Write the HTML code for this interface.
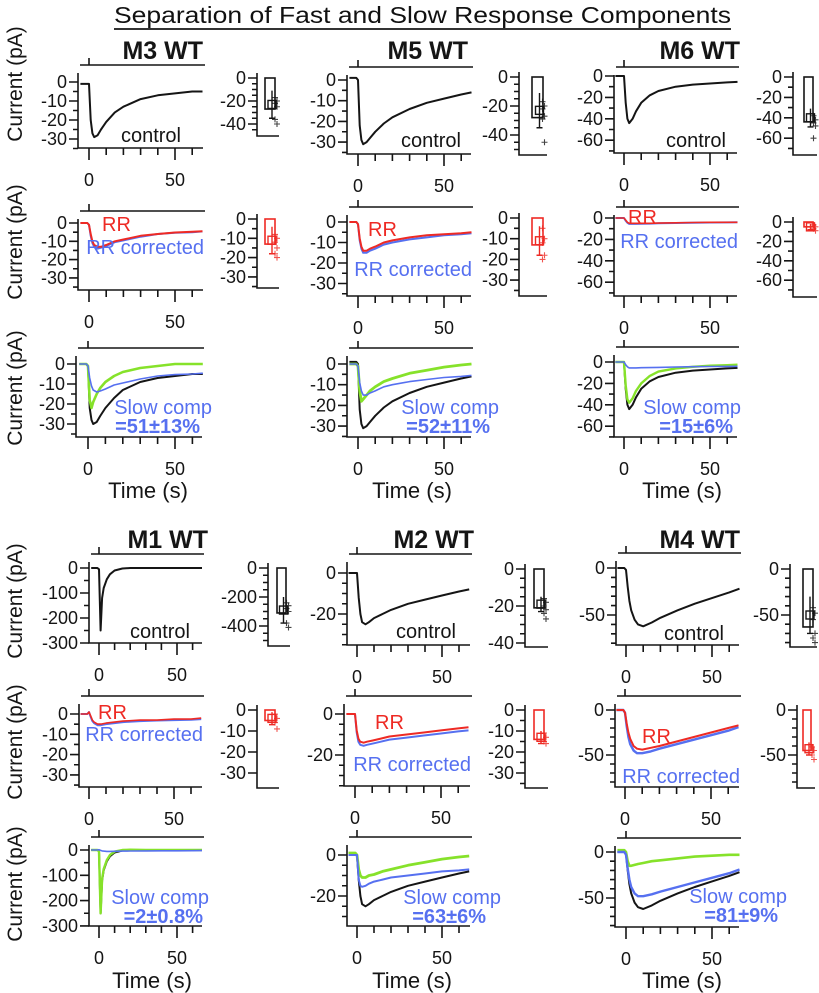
<!DOCTYPE html>
<html><head><meta charset="utf-8"><style>
html,body{margin:0;padding:0;background:#fff}
svg{display:block;font-family:"Liberation Sans",Arial,sans-serif}
</style></head><body>
<svg id="fig" width="819" height="993" viewBox="0 0 819 993" xmlns="http://www.w3.org/2000/svg">
<text x="114" y="23" font-size="23" textLength="617" lengthAdjust="spacingAndGlyphs" fill="#111">Separation of Fast and Slow Response Components</text>
<line x1="114" y1="29" x2="731" y2="29" stroke="#333" stroke-width="2"/>
</svg>
<script>
// Common time samples (s)
const T = [-5,-1,0,1,2,3,5,7,10,15,20,30,40,50,60,66];
// Series values (pA)
const m3Ctl  = [-1,-1,-1,-20,-27,-29,-28,-25,-21,-16,-13,-9,-7,-6,-5,-5];
const m3RR   = [0,0,-1,-6,-10,-12,-13,-13,-12,-10,-9,-7,-6,-5.2,-4.8,-4.5];
const m3Cor  = [0,0,-1,-7,-11,-13,-14,-13.5,-12.5,-10.5,-9.5,-7.5,-6,-5.3,-5,-4.6];
const m3Fast = [0,0,-1,-18,-22,-19,-15,-12,-9,-6,-4,-2,-1,0,0,0];
const m3Ctl2 = [0,0,-1,-22,-28,-30,-29,-26,-22,-17,-13,-9,-7,-6,-5,-5];
const m5Ctl  = [1,1,0,-22,-29,-31,-30,-28,-25,-21,-18,-14,-11,-9,-7,-6];
const m5RR   = [0,0,-1,-8,-12,-14,-14,-13,-12,-10,-9,-7.5,-6.5,-6,-5.5,-5];
const m5Cor  = [0,0,-1,-9,-13,-15,-15,-14,-13,-11,-10,-8.5,-7.5,-6.5,-6,-5.5];
const m5Fast = [0,0,-1,-13,-18,-17,-15,-13,-11,-8.5,-7,-4.5,-3,-1.5,-0.5,0];
const m6Ctl  = [0,0,0,-25,-40,-44,-40,-33,-25,-18,-14,-10,-8,-7,-6,-5.5];
const m6RR   = [0,0,0,-2,-4,-5,-5,-5,-5,-5,-4.8,-4.5,-4.2,-4,-4,-4];
const m6Cor  = [0,0,0,-2.5,-4.5,-5.5,-5.5,-5.5,-5.3,-5.2,-5,-4.7,-4.4,-4.2,-4.1,-4];
const m6Fast = [0,0,0,-22,-35,-38,-34,-27,-20,-13,-9,-6,-4.5,-3.5,-3,-2.5];
const m1Ctl  = [0,0,-5,-250,-120,-80,-45,-25,-10,-2,0,0,0,0,0,0];
const m1RR   = [0,0,1,-1,-3,-4,-5,-5,-4.5,-4,-3.5,-3,-3,-2.5,-2.5,-2];
const m1Cor  = [0,0,1,-1.5,-3.5,-4.5,-5.5,-5.5,-5,-4.5,-4,-3.5,-3.2,-3,-2.8,-2.5];
const m1Fast = [0,0,-5,-250,-115,-75,-40,-20,-6,0,1,0,0,0,0,0];
const m2Ctl  = [0,0,0,-12,-20,-24,-25,-24,-22,-20,-18,-15,-13,-11,-9,-8];
const m2RR   = [0,0,0,-8,-12,-13.5,-14,-13.5,-13,-12,-11,-10,-9,-8,-7,-6.5];
const m2Cor  = [0,0,0,-9,-13.5,-15,-15.5,-15,-14.5,-13.5,-12.5,-11.5,-10.5,-9.5,-8.5,-8];
const m2Fast = [1,1,0,-7,-10,-11,-11,-10,-9.5,-8,-7,-5,-3.5,-2,-1,-0.5];
const m2Cor2 = [0,0,0,-12,-15,-15.5,-15,-14,-13,-12,-11,-10,-9,-8,-7.5,-7];
const m4Ctl  = [0,0,-2,-20,-35,-45,-55,-60,-62,-58,-53,-45,-38,-32,-26,-22];
const m4RR   = [0,0,-3,-15,-25,-32,-40,-43,-44,-42,-40,-35,-30,-25,-20,-17];
const m4Cor  = [0,0,-3,-18,-30,-38,-45,-48,-48,-46,-43,-38,-33,-28,-23,-19];
const m4Fast = [2,2,0,-10,-15,-15,-14,-13,-12,-10,-9,-7,-5,-4,-3,-3];
// Inset summary values: bar, mean marker, error, points
const m3Box = [-27,-23,12]; const m3Pts = [-17,-20,-22,-25,-36,-40];
const m3RRBox = [-13,-11,7]; const m3RRPts = [-8,-10,-12,-15,-18,-20];
const m5Box = [-28,-23,12]; const m5Pts = [-17,-20,-22,-27,-29,-45];
const m5RRBox = [-13,-11,7]; const m5RRPts = [-5,-10,-12,-18,-20];
const m6Box = [-44,-40,9]; const m6Pts = [-38,-42,-45,-48,-60];
const m6RRBox = [-5,-5,3]; const m6RRPts = [-3,-5,-7,-9];
const m1Box = [-310,-290,90]; const m1Pts = [-240,-260,-280,-300,-380,-410];
const m1RRBox = [-5,-4,3]; const m1RRPts = [-2,-4,-6,-9];
const m2Box = [-21,-19,4]; const m2Pts = [-16,-18,-20,-22,-24,-27];
const m2RRBox = [-14,-13,3]; const m2RRPts = [-11,-13,-15,-16];
const m4Box = [-63,-50,20]; const m4Pts = [-42,-48,-55,-70,-75,-80];
const m4RRBox = [-45,-43,7]; const m4RRPts = [-41,-45,-50,-55];

const BLK='#151515', RED='#ee2a24', BLU='#5670f0', GRN='#86e22a';
const svg=document.getElementById('fig');
const NS='http://www.w3.org/2000/svg';
function el(tag,attrs,parent){const e=document.createElementNS(NS,tag);for(const k in attrs)e.setAttribute(k,attrs[k]);(parent||svg).appendChild(e);return e;}
function txt(s,attrs,parent){const e=el('text',attrs,parent);e.textContent=s;return e;}

function panel(name,g,yl,ymin,traces){
  const grp=el('g',{});
  
  
  const X=t=>g.x0+t*g.k, Y=v=>g.y0-v*g.ky;
  const bar=el('path',{d:`M${g.xa+2},${g.bar}H${g.xr+2}M${g.x0},${g.bar}V${g.bar-7}`,stroke:BLK,'stroke-width':1.6,fill:'none'},grp);
  
  
  const yt=g.bar+8;
  const ax=el('path',{d:`M${g.xa},${yt}V${g.yb}H${g.xr}`,stroke:BLK,'stroke-width':1.6,fill:'none'},grp);
  
  
  let d='';
  for(let v=0;Y(v)<=g.yb+0.5;v-=ymin){const maj=yl.indexOf(v)>=0;d+=`M${g.xa},${Y(v)}h${maj?-9:-5}`;}
  for(let t=0;t<=60;t+=10){const maj=(t%50===0);d+=`M${X(t)},${g.yb}v${maj?12:7}`;}
  el('path',{d:d,stroke:BLK,'stroke-width':1.6},grp);
  yl.forEach(v=>{const e=txt(String(v),{x:g.xa-11,y:Y(v)+6,'font-size':18,'text-anchor':'end',fill:BLK},grp);
    
    });
  [0,50].forEach(t=>{const e=txt(String(t),{x:X(t),y:g.yb+38,'font-size':18,'text-anchor':'middle',fill:BLK},grp);
    
    });
  traces.forEach(([data,col,w,nm])=>{
    const pts=T.map((t,i)=>`${X(t).toFixed(1)},${Y(data[i]).toFixed(1)}`).join(' ');
    const p=el('polyline',{points:pts,fill:'none',stroke:col,'stroke-width':w||2,'stroke-linejoin':'round'},grp);
    
    
  });
  return grp;
}
function inset(name,g,yl,ymin,box,pts,col){
  const grp=el('g',{});
  
  
  const Y=v=>g.y0-v*g.ky;
  el('path',{d:`M${g.xa},${g.y0-5}V${g.yb}H${g.bx+g.bw+4}`,stroke:BLK,'stroke-width':1.6,fill:'none'},grp);
  let d='';
  for(let v=0;Y(v)<=g.yb-1;v-=ymin){const maj=yl.indexOf(v)>=0;d+=`M${g.xa},${Y(v)}h${maj?-9:-5}`;}
  el('path',{d:d,stroke:BLK,'stroke-width':1.6},grp);
  yl.forEach(v=>{txt(String(v),{x:g.xa-11,y:Y(v)+6,'font-size':18,'text-anchor':'end',fill:BLK},grp);});
  const r=el('rect',{x:g.bx,y:Y(0),width:g.bw,height:Y(box[0])-Y(0),fill:'none',stroke:col,'stroke-width':1.6},grp);
  
  
  const cx=g.bx+g.bw/2+2;
  el('path',{d:`M${cx},${Y(box[1]-box[2])}V${Y(box[1]+box[2])}M${cx-3},${Y(box[1]-box[2])}h6`,stroke:col,'stroke-width':1.4},grp);
  el('rect',{x:cx-4,y:Y(box[1])-4,width:8,height:8,fill:'none',stroke:col,'stroke-width':1.4},grp);
  pts.forEach((v,i)=>{const px=cx+3+(i%2)*2;
    const p=el('path',{d:`M${px-3},${Y(v)}h6M${px},${Y(v)-3}v6`,stroke:col,'stroke-width':1.1,opacity:0.8},grp);
    
    });
}
function label(s,x,y,col,opts){const e=txt(s,Object.assign({x:x,y:y,'font-size':20,fill:col},opts||{}));return e;}

// ---------- Top half ----------
panel('m3-control-plot',{xa:78,x0:89,k:1.72,xr:203,bar:65,y0:82,ky:1.9,yb:148},[0,-10,-20,-30],5,[[m3Ctl,BLK,2,'control-trace']]);
inset('m3-control-inset',{xa:257,y0:78,ky:1.15,yb:136,bx:265,bw:10},[0,-20,-40],5,m3Box,m3Pts,BLK);
panel('m3-rr-plot',{xa:78,x0:89,k:1.72,xr:203,bar:211,y0:223,ky:1.83,yb:290},[0,-10,-20,-30],5,[[m3Cor,BLU,2,'rr-corrected-trace'],[m3RR,RED,2,'rr-trace']]);
inset('m3-rr-inset',{xa:257,y0:219,ky:1.93,yb:288,bx:265,bw:10},[0,-10,-20,-30],5,m3RRBox,m3RRPts,RED);
panel('m3-components-plot',{xa:76,x0:88,k:1.74,xr:202,bar:348,y0:364,ky:2.0,yb:437},[0,-10,-20,-30],5,[[m3Ctl2,BLK,2,'total-trace'],[m3Fast,GRN,2.6,'fast-trace'],[m3Cor,BLU,1.6,'slow-trace']]);
panel('m5-control-plot',{xa:347,x0:358,k:1.72,xr:471,bar:67,y0:80,ky:2.07,yb:154},[0,-10,-20,-30],5,[[m5Ctl,BLK,2,'control-trace']]);
inset('m5-control-inset',{xa:519,y0:77,ky:1.45,yb:155,bx:532,bw:11},[0,-20,-40],5,m5Box,m5Pts,BLK);
panel('m5-rr-plot',{xa:347,x0:358,k:1.72,xr:471,bar:207,y0:222,ky:2.05,yb:296},[0,-10,-20,-30],5,[[m5Cor,BLU,2,'rr-corrected-trace'],[m5RR,RED,2,'rr-trace']]);
inset('m5-rr-inset',{xa:519,y0:218,ky:2.07,yb:296,bx:532,bw:11},[0,-10,-20,-30],5,m5RRBox,m5RRPts,RED);
panel('m5-components-plot',{xa:347,x0:358,k:1.72,xr:471,bar:348,y0:364,ky:2.07,yb:437},[0,-10,-20,-30],5,[[m5Ctl,BLK,2,'total-trace'],[m5Fast,GRN,2.8,'fast-trace'],[m5Cor,BLU,1.6,'slow-trace']]);
panel('m6-control-plot',{xa:614,x0:624,k:1.72,xr:737,bar:67,y0:76,ky:1.07,yb:153},[0,-20,-40,-60],10,[[m6Ctl,BLK,2,'control-trace']]);
inset('m6-control-inset',{xa:793,y0:77,ky:1.02,yb:155,bx:804,bw:9},[0,-20,-40,-60],10,m6Box,m6Pts,BLK);
panel('m6-rr-plot',{xa:614,x0:624,k:1.72,xr:737,bar:207,y0:218,ky:1.07,yb:296},[0,-20,-40,-60],10,[[m6Cor,BLU,2,'rr-corrected-trace'],[m6RR,RED,1.6,'rr-trace']]);
inset('m6-rr-inset',{xa:793,y0:222,ky:0.97,yb:297,bx:804,bw:9},[0,-20,-40,-60],10,m6RRBox,m6RRPts,RED);
panel('m6-components-plot',{xa:614,x0:624,k:1.72,xr:737,bar:347,y0:362,ky:1.07,yb:437},[0,-20,-40,-60],10,[[m6Ctl,BLK,2,'total-trace'],[m6Fast,GRN,2.4,'fast-trace'],[m6Cor,BLU,1.6,'slow-trace']]);

// ---------- Bottom half ----------
panel('m1-control-plot',{xa:89,x0:99,k:1.56,xr:202,bar:554,y0:568,ky:0.25,yb:643},[0,-100,-200,-300],50,[[m1Ctl,BLK,2,'control-trace']]);
inset('m1-control-inset',{xa:268,y0:568,ky:0.145,yb:646,bx:277,bw:9},[0,-200,-400],50,m1Box,m1Pts,BLK);
panel('m1-rr-plot',{xa:79,x0:89,k:1.7,xr:202,bar:696,y0:714,ky:2.03,yb:787},[0,-10,-20,-30],5,[[m1Cor,BLU,2,'rr-corrected-trace'],[m1RR,RED,1.6,'rr-trace']]);
inset('m1-rr-inset',{xa:257,y0:710,ky:2.1,yb:788,bx:265,bw:10},[0,-10,-20,-30],10,m1RRBox,m1RRPts,RED);
panel('m1-components-plot',{xa:89,x0:99,k:1.56,xr:202,bar:837,y0:850,ky:0.253,yb:926},[0,-100,-200,-300],50,[[m1Ctl,BLK,2,'total-trace'],[m1Fast,GRN,2.4,'fast-trace'],[m1Cor,BLU,1.6,'slow-trace']]);
panel('m2-control-plot',{xa:347,x0:357,k:1.7,xr:470,bar:554,y0:573,ky:2.05,yb:645},[0,-20],5,[[m2Ctl,BLK,2,'control-trace']]);
inset('m2-control-inset',{xa:525,y0:569,ky:1.85,yb:647,bx:534,bw:10},[0,-20,-40],5,m2Box,m2Pts,BLK);
panel('m2-rr-plot',{xa:344,x0:355,k:1.72,xr:470,bar:696,y0:714,ky:2.05,yb:786},[0,-20],5,[[m2Cor,BLU,2,'rr-corrected-trace'],[m2RR,RED,2,'rr-trace']]);
inset('m2-rr-inset',{xa:525,y0:710,ky:2.1,yb:788,bx:534,bw:10},[0,-10,-20,-30],5,m2RRBox,m2RRPts,RED);
panel('m2-components-plot',{xa:347,x0:357,k:1.7,xr:470,bar:837,y0:855,ky:2.05,yb:926},[0,-20],5,[[m2Ctl,BLK,2,'total-trace'],[m2Fast,GRN,2.8,'fast-trace'],[m2Cor2,BLU,2,'slow-trace']]);
panel('m4-control-plot',{xa:616,x0:626,k:1.72,xr:739,bar:553,y0:568,ky:0.94,yb:645},[0,-50],10,[[m4Ctl,BLK,2,'control-trace']]);
inset('m4-control-inset',{xa:790,y0:569,ky:0.92,yb:647,bx:803,bw:10},[0,-50],10,m4Box,m4Pts,BLK);
panel('m4-rr-plot',{xa:615,x0:625,k:1.72,xr:739,bar:696,y0:710,ky:0.9,yb:787},[0,-50],10,[[m4Cor,BLU,2.4,'rr-corrected-trace'],[m4RR,RED,2,'rr-trace']]);
inset('m4-rr-inset',{xa:797,y0:710,ky:0.9,yb:788,bx:803,bw:8},[0,-50],10,m4RRBox,m4RRPts,RED);
panel('m4-components-plot',{xa:615,x0:626,k:1.72,xr:739,bar:838,y0:852,ky:0.92,yb:927},[0,-50],10,[[m4Ctl,BLK,2,'total-trace'],[m4Fast,GRN,2.6,'fast-trace'],[m4Cor,BLU,2.4,'slow-trace']]);

// ---------- Text labels ----------
const titles=[['M3 WT',203,59],['M5 WT',468,59],['M6 WT',740,59],['M1 WT',208,548],['M2 WT',474,548],['M4 WT',740,548]];
titles.forEach(([s,x,y])=>{const e=txt(s,{x:x,y:y,'font-size':25,'font-weight':'bold','text-anchor':'end',fill:BLK});
  
  });
const controls=[[181,142],[461,147],[726,147],[190,638],[456,638],[724,640]];
controls.forEach(([x,y])=>{const e=label('control',x,y,BLK,{'text-anchor':'end'});
  
  });
const rrs=[[102,231],[368,236],[628,224],[98,719],[375,729],[642,743]];
rrs.forEach(([x,y])=>{const e=label('RR',x,y,RED);
  
  });
const rrc=[[204,254],[472,276],[738,248],[203,741],[471,771],[740,783]];
rrc.forEach(([x,y])=>{const e=label('RR corrected',x,y,BLU,{'text-anchor':'end'});
  
  });
const slows=[[212,414,'=51±13%',200],[499,414,'=52±11%',490],[741,414,'=15±6%',733],[209,904,'=2±0.8%',203],[501,904,'=63±6%',486],[787,903,'=81±9%',778]];
slows.forEach(([x,y,s,x2])=>{const e=label('Slow comp',x,y,BLU,{'text-anchor':'end'});
  
  
  const f=label(s,x2,y+19,BLU,{'text-anchor':'end','font-weight':'bold'});
  
  });
const times=[[148,498],[412,498],[682,498],[152,988],[412,988],[682,988]];
times.forEach(([x,y])=>{const e=txt('Time (s)',{x:x,y:y,'font-size':22,'text-anchor':'middle',fill:BLK});
  
  });
const ytitles=[84,242,388,601,742,884];
ytitles.forEach(cy=>{const e=txt('Current (pA)',{x:0,y:0,'font-size':21,'text-anchor':'middle',fill:BLK,transform:`translate(22,${cy}) rotate(-90)`});
  
  });
</script>
</body></html>
